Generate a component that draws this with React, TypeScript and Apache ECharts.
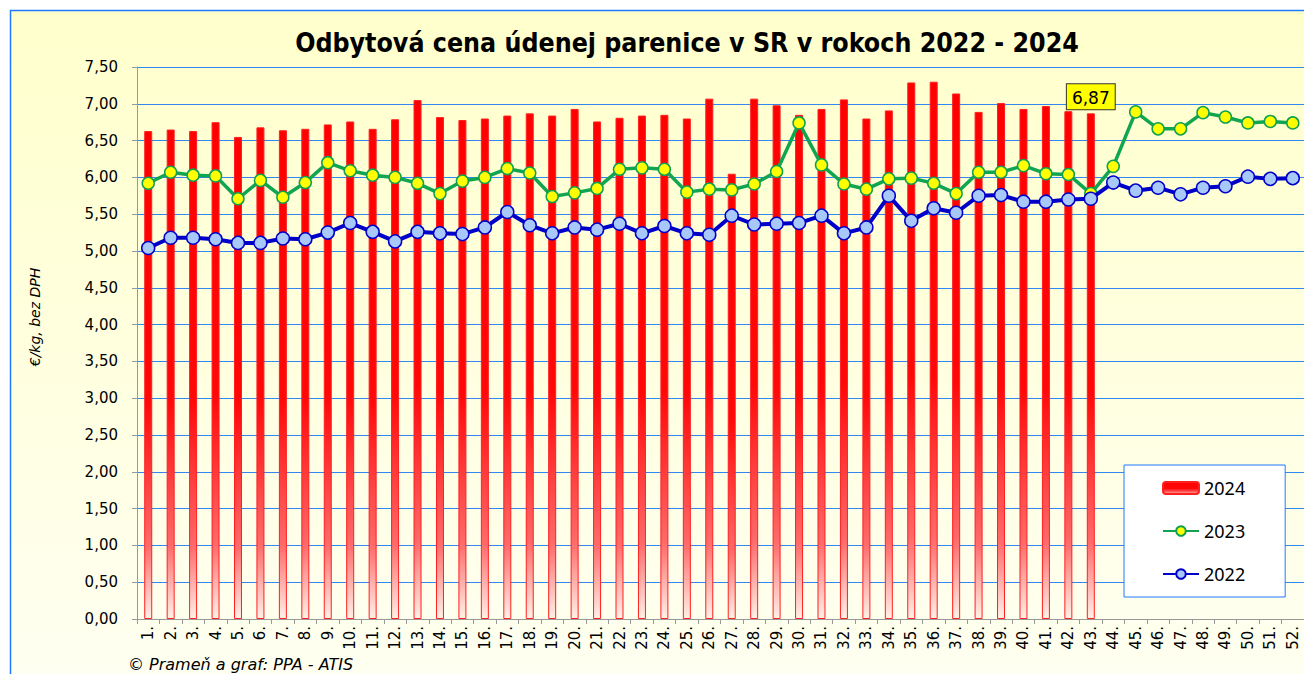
import React, { useEffect, useRef } from "react";
import * as echarts from "echarts";

const weeks: string[] = Array.from({ length: 52 }, (_, i) => `${i + 1}.`);

const price2024 = [
  6.63, 6.65, 6.63, 6.75, 6.55, 6.68, 6.64, 6.66, 6.72, 6.76,
  6.66, 6.79, 7.05, 6.82, 6.78, 6.80, 6.84, 6.87, 6.84, 6.93,
  6.76, 6.81, 6.84, 6.85, 6.80, 7.07, 6.05, 7.07, 6.98, 6.85,
  6.93, 7.06, 6.80, 6.91, 7.29, 7.30, 7.14, 6.89, 7.01, 6.93,
  6.97, 6.90, 6.87,
];

const price2023 = [
  5.92, 6.07, 6.03, 6.02, 5.71, 5.96, 5.73, 5.93, 6.20, 6.09,
  6.03, 6.00, 5.92, 5.78, 5.95, 6.00, 6.12, 6.06, 5.74, 5.79,
  5.85, 6.11, 6.13, 6.11, 5.80, 5.84, 5.83, 5.91, 6.08, 6.74,
  6.17, 5.91, 5.84, 5.98, 5.99, 5.92, 5.78, 6.07, 6.07, 6.16,
  6.05, 6.04, 5.78, 6.15, 6.89, 6.66, 6.66, 6.88, 6.82, 6.74,
  6.76, 6.74,
];

const price2022 = [
  5.04, 5.18, 5.18, 5.16, 5.11, 5.11, 5.17, 5.16, 5.25, 5.38,
  5.26, 5.13, 5.26, 5.24, 5.23, 5.32, 5.53, 5.35, 5.24, 5.32,
  5.29, 5.37, 5.24, 5.34, 5.24, 5.22, 5.48, 5.36, 5.37, 5.38,
  5.48, 5.24, 5.32, 5.75, 5.41, 5.58, 5.52, 5.75, 5.76, 5.67,
  5.67, 5.70, 5.71, 5.93, 5.82, 5.86, 5.77, 5.86, 5.88, 6.01,
  5.98, 5.99,
];

const seriesNames = ["2024", "2023", "2022"];
const titleText = "Odbytová cena údenej parenice v SR v rokoch 2022 - 2024";
const yAxisTitle = "€/kg, bez DPH";
const sourceText = "© Prameň a graf: PPA - ATIS";

const fmt = (v: number) => v.toFixed(2).replace(".", ",");

export default function App() {
  const ref = useRef<HTMLDivElement>(null);

  useEffect(() => {
    const chart = echarts.init(ref.current!, null, { renderer: "svg" });
    const last = price2024.length - 1;
    const barData = price2024.map((v, i) =>
      i === last
        ? {
            value: v,
            label: {
              show: true,
              position: "top",
              distance: 4,
              formatter: () => fmt(v),
              backgroundColor: "#FFFF00",
              borderColor: "#333333",
              borderWidth: 1,
              padding: [5, 5, 3, 5],
              fontSize: 17,
              fontFamily: "DejaVu Sans",
              color: "#000",
            },
          }
        : v
    );

    chart.setOption({
      animation: false,
      graphic: [
        {
          type: "rect",
          z: -100,
          silent: true,
          shape: { x: 10.5, y: 10.5, width: 1310, height: 680 },
          style: {
            fill: new echarts.graphic.LinearGradient(0, 0, 0, 1, [
              { offset: 0, color: "#FFFFCC" },
              { offset: 1, color: "#FFFFF2" },
            ]),
            stroke: "#1E7BFF",
            lineWidth: 1.5,
          },
        },
        {
          type: "text",
          x: 687,
          y: 42,
          style: {
            text: titleText,
            fontFamily: "DejaVu Sans Condensed, DejaVu Sans",
            fontWeight: "bold",
            fontSize: 26.5,
            fill: "#000",
            textAlign: "center",
            textVerticalAlign: "middle",
          },
        },
        {
          type: "text",
          x: 35,
          y: 317,
          rotation: Math.PI / 2,
          style: {
            text: yAxisTitle,
            fontFamily: "DejaVu Sans",
            fontStyle: "italic",
            fontSize: 14,
            fill: "#000",
            textAlign: "center",
            textVerticalAlign: "middle",
          },
        },
        {
          type: "text",
          x: 128,
          y: 664,
          style: {
            text: sourceText,
            fontFamily: "DejaVu Sans",
            fontStyle: "italic",
            fontSize: 16,
            fill: "#000",
            textAlign: "left",
            textVerticalAlign: "middle",
          },
        },
      ],
      grid: { left: 137, top: 67, width: 1171, height: 552, containLabel: false },
      legend: {
        orient: "vertical",
        left: 1124,
        top: 465,
        data: seriesNames,
        backgroundColor: "#FFFFFF",
        borderColor: "#1E7BFF",
        borderWidth: 1,
        padding: [14, 40, 14, 38],
        itemGap: 25,
        itemWidth: 36,
        itemHeight: 12,
        textStyle: { fontSize: 18, fontFamily: "Noto Sans", color: "#000" },
      },
      xAxis: {
        type: "category",
        data: weeks,
        boundaryGap: true,
        axisLine: { show: true, lineStyle: { color: "#999999", width: 1 } },
        axisTick: { show: true, length: 5, lineStyle: { color: "#999999" } },
        axisLabel: {
          interval: 0,
          rotate: 90,
          margin: 7,
          fontSize: 15,
          fontFamily: "DejaVu Sans",
          color: "#000",
        },
        splitLine: { show: false },
      },
      yAxis: {
        type: "value",
        min: 0,
        max: 7.5,
        interval: 0.5,
        axisLine: { show: true, lineStyle: { color: "#999999", width: 1 } },
        axisTick: { show: true, length: 5, lineStyle: { color: "#999999" } },
        axisLabel: {
          formatter: (v: number) => fmt(v),
          margin: 19,
          fontSize: 15,
          fontFamily: "DejaVu Sans",
          color: "#000",
        },
        splitLine: { show: true, lineStyle: { color: "#3385F0", width: 1.2 } },
      },
      series: [
        {
          name: seriesNames[0],
          type: "bar",
          data: barData,
          barWidth: 8,
          z: 2,
          itemStyle: {
            color: new echarts.graphic.LinearGradient(0, 0, 0, 1, [
              { offset: 0, color: "#FF0000" },
              { offset: 0.55, color: "#FF0808" },
              { offset: 0.85, color: "#FF6A6A" },
              { offset: 1, color: "#FFF0E6" },
            ]),
            borderColor: "#FF2020",
            borderWidth: 1,
          },
        },
        {
          name: seriesNames[1],
          type: "line",
          data: price2023,
          z: 3,
          symbol: "circle",
          symbolSize: 12,
          lineStyle: { color: "#10A550", width: 3.5 },
          itemStyle: { color: "#FFFF00", borderColor: "#10A050", borderWidth: 1.5 },
        },
        {
          name: seriesNames[2],
          type: "line",
          data: price2022,
          z: 4,
          symbol: "circle",
          symbolSize: 13,
          lineStyle: { color: "#0000C8", width: 4 },
          itemStyle: { color: "#A8C8FA", borderColor: "#0000C8", borderWidth: 1.5 },
        },
      ],
    });

    return () => chart.dispose();
  }, []);

  return (
    <div
      ref={ref}
      style={{ position: "absolute", left: 0, top: 0, width: 1304, height: 674 }}
    />
  );
}
